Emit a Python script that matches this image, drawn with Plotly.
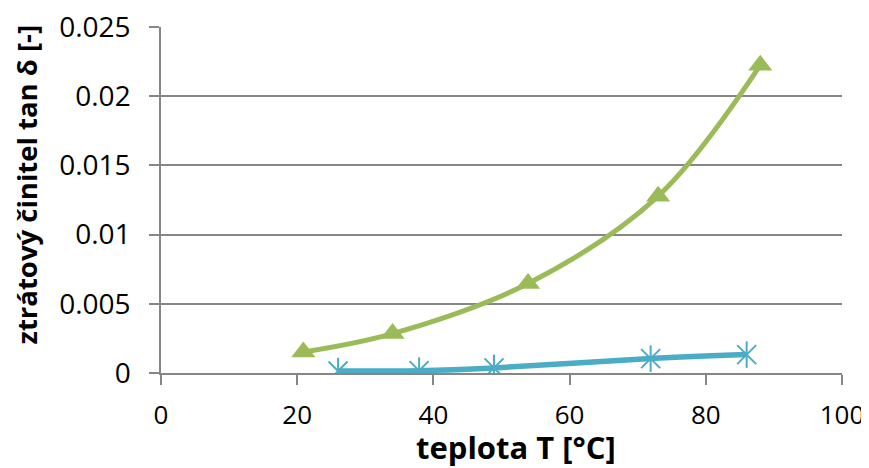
import plotly.graph_objects as go

# Data
green_T = [20.9, 34.0, 53.9, 73.0, 88.0]
green_tan = [0.00152, 0.00285, 0.00647, 0.01278, 0.02225]

blue_T = [26.0, 37.9, 48.9, 71.9, 86.0]
blue_tan = [0.00014, 0.00017, 0.00037, 0.00104, 0.00133]

x_ticks = [0, 20, 40, 60, 80, 100]
y_ticks = [0, 0.005, 0.01, 0.015, 0.02, 0.025]

GREEN = "#9BBB59"
BLUE = "#4BACC6"
GRID = "#868686"
FONT = "Open Sans"

fig = go.Figure()

fig.add_trace(go.Scatter(
    x=blue_T, y=blue_tan, mode="lines",
    line=dict(color=BLUE, width=5.5, shape="spline"),
    showlegend=False, hoverinfo="skip"))
fig.add_trace(go.Scatter(
    x=blue_T, y=blue_tan, mode="markers",
    marker=dict(symbol="x-thin-open", size=19, color=BLUE, line=dict(color=BLUE, width=2)),
    showlegend=False))
fig.add_trace(go.Scatter(
    x=blue_T, y=blue_tan, mode="markers",
    marker=dict(symbol="line-ns-open", size=19, color=BLUE, line=dict(color=BLUE, width=2)),
    showlegend=False, hoverinfo="skip"))

fig.add_trace(go.Scatter(
    x=green_T, y=green_tan, mode="lines+markers",
    line=dict(color=GREEN, width=5, shape="spline"),
    marker=dict(symbol="triangle-up", size=21, color=GREEN),
    showlegend=False))

# page body has an 8px margin, so the figure is 8px smaller and shifted
fig.update_layout(
    width=861, height=460,
    margin=dict(l=153, r=27, t=19, b=95, autoexpand=False),
    plot_bgcolor="white", paper_bgcolor="white",
    font=dict(family=FONT, size=28, color="black"),
    xaxis=dict(
        range=[0, 100], tickvals=x_ticks, showgrid=False, zeroline=False,
        showline=True, linecolor=GRID, linewidth=1.5, automargin=False,
        ticks="outside", ticklen=10, tickcolor=GRID, tickwidth=1.5,
        ticklabelstandoff=8, ticklabeloverflow="allow",
        tickfont=dict(family=FONT, size=26)),
    yaxis=dict(
        range=[0, 0.02501], tickvals=y_ticks, showgrid=True, gridcolor=GRID, gridwidth=1.5,
        zeroline=False, showline=True, linecolor=GRID, linewidth=1.5, automargin=False,
        ticks="outside", ticklen=10, tickcolor=GRID, tickwidth=1.5,
        ticklabelstandoff=13, ticklabeloverflow="allow",
        tickfont=dict(family=FONT, size=28)),
    annotations=[
        dict(text="<b>teplota T [°C]</b>", xref="paper", yref="paper",
             x=0.522, y=-0.215, xanchor="center", yanchor="middle",
             showarrow=False, font=dict(family=FONT, size=31)),
        dict(text="<b>ztrátový činitel tan δ [-]</b>", xref="paper", yref="paper",
             x=-0.1976, y=0.546, xanchor="center", yanchor="middle", textangle=-90,
             showarrow=False, font=dict(family=FONT, size=27.5)),
    ],
)

fig.write_html("out.html")
